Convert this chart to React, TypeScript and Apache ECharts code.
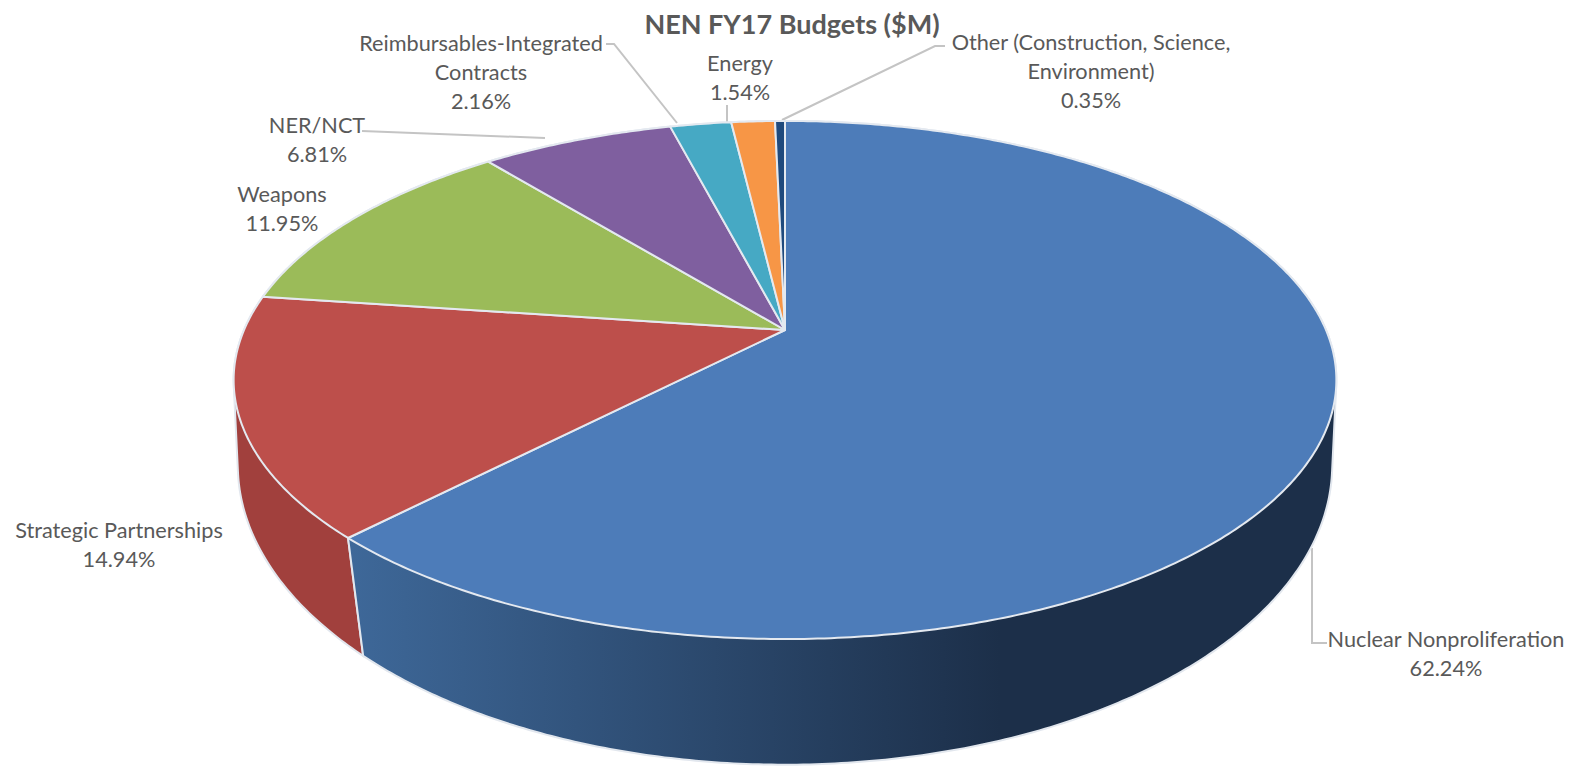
import React, { useEffect, useRef } from "react";
import * as echarts from "echarts";

// FY17 budget shares, clockwise from twelve o'clock
const categories = [
  "Nuclear Nonproliferation",
  "Strategic Partnerships",
  "Weapons",
  "NER/NCT",
  "Reimbursables-Integrated\nContracts",
  "Energy",
  "Other (Construction, Science,\nEnvironment)",
];
const shares = [62.24, 14.94, 11.95, 6.81, 2.16, 1.54, 0.35];
const chartTitle = "NEN FY17 Budgets ($M)";

const topColors = ["#4d7cb9", "#bd4f4b", "#9bbb59", "#7f5f9f", "#46a9c4", "#f79646", "#1f4a7d"];
const wallColors: [string, string][] = [
  ["#3e6899", "#1c2f49"],
  ["#a1403d", "#a1403d"],
  ["#7a9446", "#7a9446"],
  ["#654b80", "#654b80"],
  ["#38879c", "#38879c"],
  ["#c47738", "#c47738"],
  ["#183a63", "#183a63"],
];

// Perspective rims of the disc: horizontal and vertical reach, tilt and centre height
const CX = 785;
const TOP_RIM = { a: 541, b: 249.4, k: 0.193, cy: 330 };
const BOTTOM_RIM = { a: 541, b: 293, k: 0.15, cy: 420 };

const labelCentres = [
  [1446, 653],
  [119, 544],
  [282, 208],
  [317, 139],
  [481, 72],
  [740, 77],
  [1091, 71],
];
const leaders = [
  [[1312, 548], [1312, 643], [1327, 643]],
  [[362, 131], [545, 138]],
  [[606, 44], [614, 44], [677, 123]],
  [[727, 105], [727, 122]],
  [[945, 46], [935, 46], [782, 120]],
];

const total = shares.reduce((a, b) => a + b, 0);

function rimPoint(theta: number, rim: typeof TOP_RIM) {
  const u = Math.sin(theta);
  const v = Math.cos(theta);
  const w = 1 + rim.k * v;
  return [CX + (rim.a * u) / w, rim.cy - (rim.b * v) / w];
}

function arc(from: number, to: number, rim: typeof TOP_RIM) {
  const steps = Math.max(2, Math.ceil(Math.abs(to - from) / 0.01));
  const pts: number[][] = [];
  for (let i = 0; i <= steps; i++) pts.push(rimPoint(from + ((to - from) * i) / steps, rim));
  return pts;
}

// A wall's outline is the convex hull of its two rim arcs, which keeps the silhouette straight
// where the rims cross near the left and right extremes.
function hull(points: number[][]) {
  const pts = points.slice().sort((p, q) => p[0] - q[0] || p[1] - q[1]);
  const cross = (o: number[], a: number[], b: number[]) =>
    (a[0] - o[0]) * (b[1] - o[1]) - (a[1] - o[1]) * (b[0] - o[0]);
  const half = (list: number[][]) => {
    const out: number[][] = [];
    for (const p of list) {
      while (out.length >= 2 && cross(out[out.length - 2], out[out.length - 1], p) <= 0) out.pop();
      out.push(p);
    }
    out.pop();
    return out;
  };
  return half(pts).concat(half(pts.slice().reverse()));
}

function sliceAngles(api: any) {
  const start = (api.value(1) / total) * Math.PI * 2;
  const end = start + (api.value(0) / total) * Math.PI * 2;
  return [start, end];
}

const sliceData = shares.map((v, i) => [v, shares.slice(0, i).reduce((a, b) => a + b, 0)]);

export default function App() {
  const ref = useRef<HTMLDivElement>(null);

  useEffect(() => {
    const chart = echarts.init(ref.current!, undefined, { renderer: "svg" });
    chart.setOption({
      animation: false,
      backgroundColor: "#ffffff",
      title: {
        text: chartTitle,
        left: 787,
        top: 5,
        textAlign: "center",
        textStyle: { fontFamily: "Lato", fontSize: 27, fontWeight: "bold", color: "#595959" },
      },
      series: [
        {
          // Side walls, painted first so the top faces cover their hidden parts
          type: "custom",
          coordinateSystem: "none",
          silent: true,
          z: 1,
          data: sliceData,
          renderItem: (params: any, api: any) => {
            const [a, b] = sliceAngles(api);
            const pts = hull(arc(a, b, TOP_RIM).concat(arc(b, a, BOTTOM_RIM)));
            const [c0, c1] = wallColors[params.dataIndex];
            return {
              type: "polygon",
              z2: 10 - params.dataIndex,
              shape: { points: pts },
              style: {
                fill: new echarts.graphic.LinearGradient(0, 0, 1, 0, [
                  { offset: 0, color: c0 },
                  { offset: 0.66, color: c1 },
                  { offset: 1, color: c1 },
                ]),
                stroke: "#e2e7ee",
                lineWidth: 2,
              },
            };
          },
        },
        {
          // Top faces of the disc
          type: "custom",
          coordinateSystem: "none",
          silent: true,
          z: 2,
          data: sliceData,
          renderItem: (params: any, api: any) => {
            const [a, b] = sliceAngles(api);
            const pts = [[CX, TOP_RIM.cy]].concat(arc(a, b, TOP_RIM));
            return {
              type: "polygon",
              shape: { points: pts },
              style: {
                fill: topColors[params.dataIndex],
                stroke: "#e4e9f0",
                lineWidth: 2,
                lineJoin: "round",
              },
            };
          },
        },
      ],
      graphic: [
        ...leaders.map((points) => ({
          type: "polyline",
          silent: true,
          shape: { points },
          style: { fill: "none", stroke: "#c4c4c4", lineWidth: 2 },
        })),
        ...categories.map((name, i) => ({
          type: "text",
          silent: true,
          x: labelCentres[i][0],
          y: labelCentres[i][1],
          style: {
            text: `${name}\n${shares[i].toFixed(2)}%`,
            fontFamily: "Lato",
            fontSize: 21.7,
            lineHeight: 29,
            fill: "#595959",
            align: "center",
            verticalAlign: "middle",
          },
        })),
      ],
    });
    return () => chart.dispose();
  }, []);

  return <div ref={ref} style={{ position: "absolute", left: 0, top: 0, width: 1577, height: 783 }} />;
}
